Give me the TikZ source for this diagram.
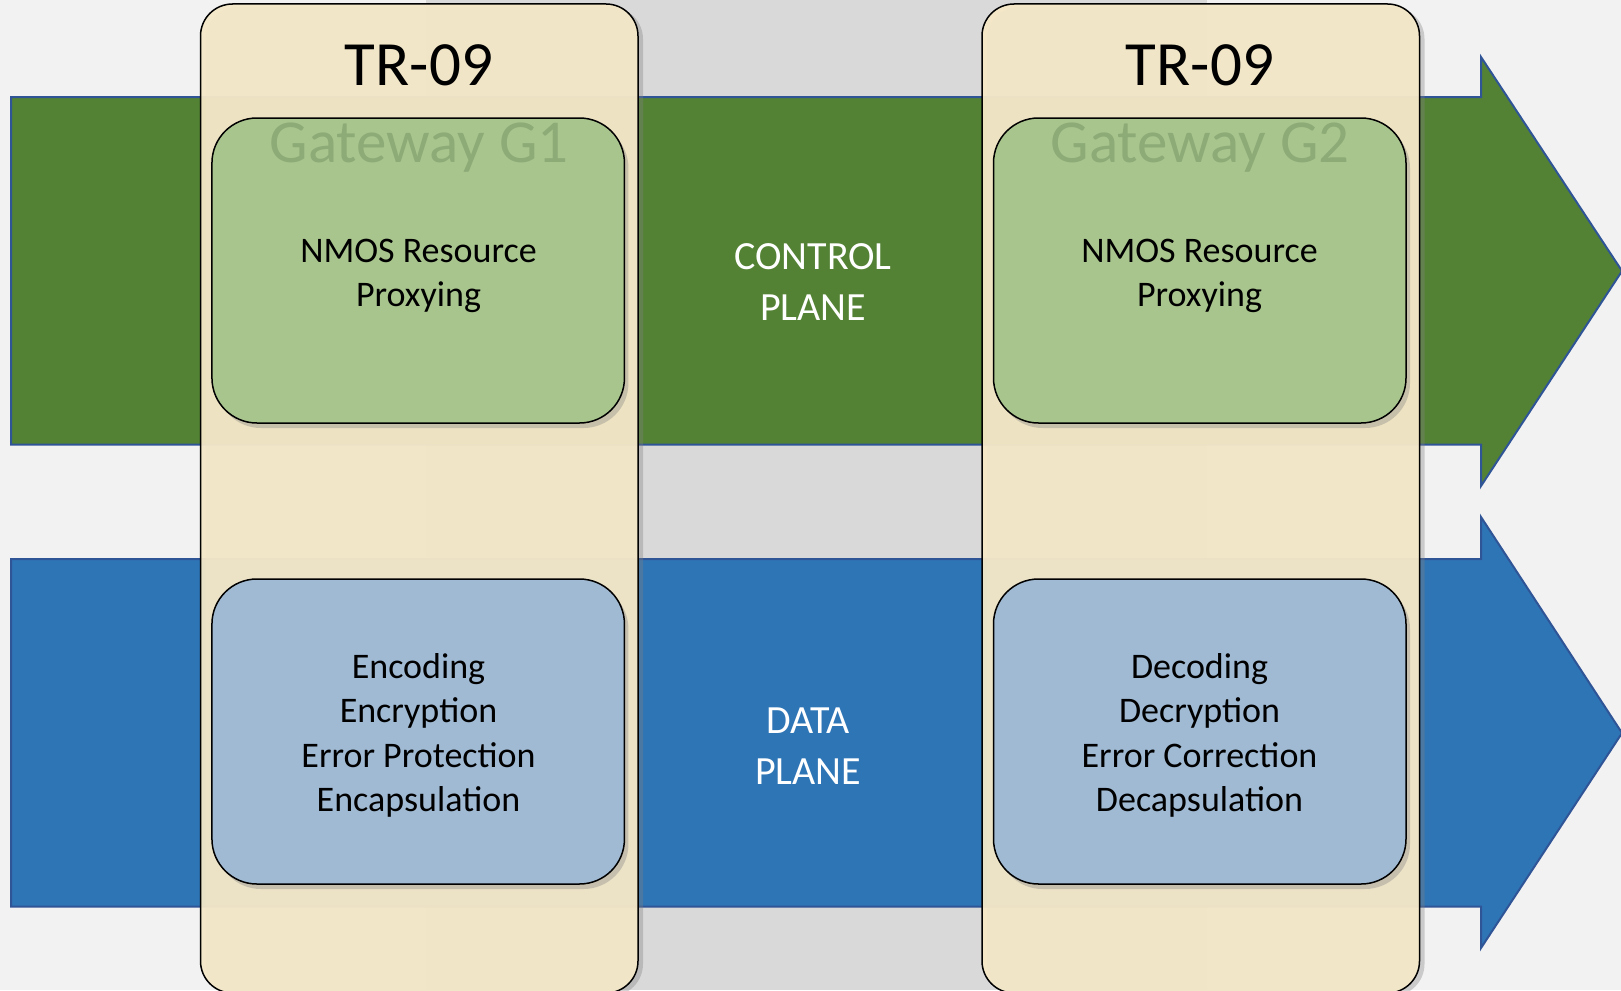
\documentclass[tikz,border=0pt]{standalone}
\usepackage{fontspec}
\setmainfont{Carlito}
\usetikzlibrary{shadows}
\definecolor{bglight}{RGB}{242,242,242}
\definecolor{bgband}{RGB}{217,217,217}
\definecolor{ctrlgreen}{RGB}{84,130,53}
\definecolor{datablue}{RGB}{46,117,182}
\definecolor{arrowedge}{RGB}{47,85,151}
\definecolor{coltan}{RGB}{245,232,200}
\definecolor{boxgreen}{RGB}{169,197,142}
\definecolor{boxblue}{RGB}{160,186,211}
\definecolor{gwtext}{RGB}{141,171,119}
\begin{document}
\begin{tikzpicture}[x=1pt,y=-1pt,
  gwcolumn/.style={draw=black, line width=1.5pt, fill=coltan, fill opacity=0.95,
    rounded corners=32pt, minimum width=437.5pt, minimum height=989pt, inner sep=0pt,
    drop shadow={shadow xshift=5pt, shadow yshift=-3pt, opacity=0.35}},
  funcbox/.style={draw=black, line width=1.5pt, rounded corners=45pt,
    minimum width=412.5pt, minimum height=305pt, inner sep=0pt,
    drop shadow={shadow xshift=4pt, shadow yshift=-5pt, opacity=0.35}},
  ctrlbox/.style={funcbox, fill=boxgreen},
  databox/.style={funcbox, fill=boxblue},
  boxtext/.style={align=center, text=black, font=\fontsize{36}{44.5}\selectfont},
  planetext/.style={align=center, text=white, font=\fontsize{40}{51}\selectfont},
  titletext/.style={anchor=base, text=black, font=\fontsize{63}{70}\selectfont, inner sep=0pt},
  gwlabel/.style={anchor=base, text=gwtext, font=\fontsize{61}{70}\selectfont, inner sep=0pt},
  planearrow/.style={draw=arrowedge, line width=2pt, line join=miter}
]
\useasboundingbox (0,0) rectangle (1621,990);
\clip (0,0) rectangle (1621,990);
% background
\fill[bglight] (0,0) rectangle (1621,990);
\fill[bgband] (426,0) rectangle (1206.5,990);
% plane arrows
\filldraw[planearrow, fill=ctrlgreen] (11,97) -- (1481,97) -- (1481,57) -- (1622,271) -- (1481,486) -- (1481,444.5) -- (11,444.5) -- cycle;
\filldraw[planearrow, fill=datablue] (11,559) -- (1481,559) -- (1481,517) -- (1622,733) -- (1481,948) -- (1481,906.5) -- (11,906.5) -- cycle;
% gateway columns
\node[gwcolumn] (col1) at (419.25,498.5) {};
\node[gwcolumn] (col2) at (1200.75,498.5) {};
% function boxes
\node[ctrlbox] (ctrl1) at (418.2,270.5) {};
\node[ctrlbox] (ctrl2) at (1199.75,270.5) {};
\node[databox] (data1) at (418.2,731.5) {};
\node[databox] (data2) at (1199.75,731.5) {};
% titles
\node[titletext] (tr1) at (419,85.5) {TR-09};
\node[titletext] (tr2) at (1200,85.5) {TR-09};
\node[gwlabel] (gw1) at (419,162) {Gateway G1};
\node[gwlabel] (gw2) at (1200,162) {Gateway G2};
% box texts
\node[boxtext] (ctrl1txt) at (418.5,276) {NMOS Resource\\Proxying};
\node[boxtext] (ctrl2txt) at (1199.5,276) {NMOS Resource\\Proxying};
\node[boxtext] (data1txt) at (418.5,735.5) {Encoding\\Encryption\\Error Protection\\Encapsulation};
\node[boxtext] (data2txt) at (1199.5,735.5) {Decoding\\Decryption\\Error Correction\\Decapsulation};
% plane labels
\node[planetext] (ctrlplane) at (813,282.5) {CONTROL\\PLANE};
\node[planetext] (dataplane) at (808,746.5) {DATA\\PLANE};
\end{tikzpicture}
\end{document}
